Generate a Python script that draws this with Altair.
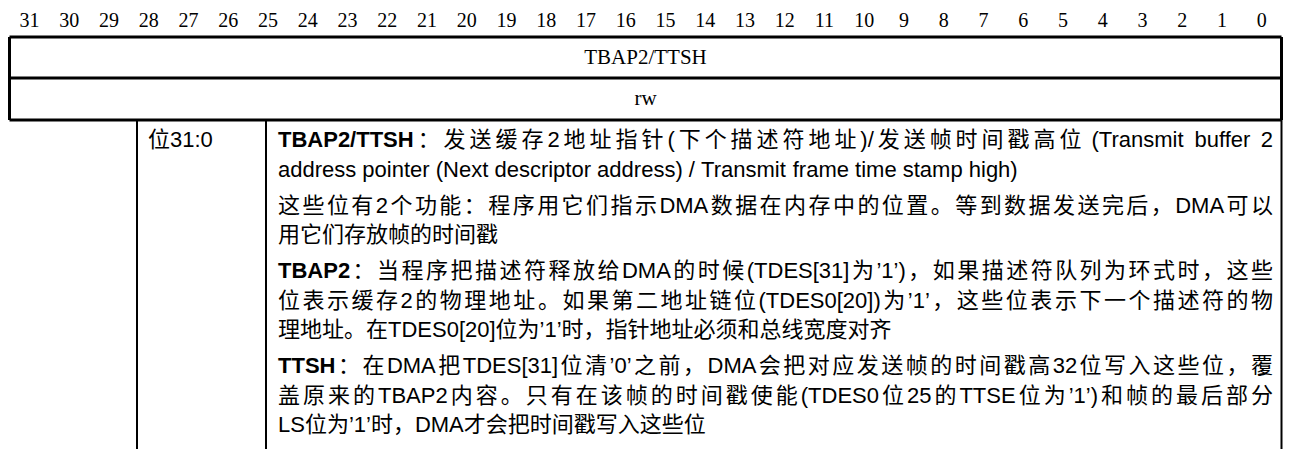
import altair as alt
import pandas as pd

# ---------------- data ----------------
bits = list(range(31, -1, -1))
field_names = ["TBAP2/TTSH"]
access_types = ["rw"]
bit_range_labels = ["位31:0"]

desc_bold = ["TBAP2/TTSH", "", "", "", "TBAP2", "", "", "TTSH", "", ""]
desc_text = [
    "：发送缓存2地址指针(下个描述符地址)/发送帧时间戳高位 (Transmit buffer 2",
    "address pointer (Next descriptor address) / Transmit frame time stamp high)",
    "这些位有2个功能：程序用它们指示DMA数据在内存中的位置。等到数据发送完后，DMA可以",
    "用它们存放帧的时间戳",
    "：当程序把描述符释放给DMA的时候(TDES[31]为’1’)，如果描述符队列为环式时，这些",
    "位表示缓存2的物理地址。如果第二地址链位(TDES0[20])为’1’，这些位表示下一个描述符的物",
    "理地址。在TDES0[20]位为’1’时，指针地址必须和总线宽度对齐",
    "：在DMA把TDES[31]位清’0’之前，DMA会把对应发送帧的时间戳高32位写入这些位，覆",
    "盖原来的TBAP2内容。只有在该帧的时间戳使能(TDES0位25的TTSE位为’1’)和帧的最后部分",
    "LS位为’1’时，DMA才会把时间戳写入这些位",
]
desc_paragraph = [0, 0, 1, 1, 2, 2, 2, 3, 3, 3]
desc_justified = [True, False, True, False, True, True, False, True, True, False]

# ---------------- layout ----------------
W, H = 1275, 441
BOX_L, BOX_R = 9.5, 1281.5
ROW_Y = [37, 78, 120]
NUM_Y = 21
COL_X = [137, 266]
TEXT_X, TEXT_R = 278, 1273
LABEL_X = 148
LINE1_Y, LH, PGAP = 140, 29.5, 6.5
FS = 22
SANS = "Liberation Sans, Noto Sans CJK SC"
SERIF = "Liberation Serif, DejaVu Serif"

# Helvetica/Arial metrics (per 1000 em)
_reg = {' ': 278, '!': 278, '"': 355, '#': 556, '$': 556, '%': 889, '&': 667, "'": 191,
        '(': 333, ')': 333, '*': 389, '+': 584, ',': 278, '-': 333, '.': 278, '/': 278,
        ':': 278, ';': 278, '<': 584, '=': 584, '>': 584, '?': 556, '@': 1015,
        '[': 278, '\\': 278, ']': 278, '^': 469, '_': 556, '`': 333, '{': 334, '|': 260,
        '}': 334, '~': 584, '\u2019': 222, '\u2018': 222}
for d in "0123456789":
    _reg[d] = 556
_reg.update(dict(zip("ABCDEFGHIJKLMNOPQRSTUVWXYZ",
                     [667, 667, 722, 722, 667, 611, 778, 722, 278, 500, 667, 556, 833,
                      722, 778, 667, 778, 722, 667, 611, 722, 667, 944, 667, 667, 611])))
_reg.update(dict(zip("abcdefghijklmnopqrstuvwxyz",
                     [556, 556, 500, 556, 556, 278, 556, 556, 222, 222, 500, 222, 833,
                      556, 556, 556, 556, 333, 500, 278, 556, 500, 722, 500, 500, 500])))
_bold = dict(_reg)
_bold.update(dict(zip("ABCDEFGHIJKLMNOPQRSTUVWXYZ",
                      [722, 722, 722, 722, 667, 611, 778, 722, 278, 556, 722, 611, 833,
                       722, 778, 667, 778, 722, 667, 611, 722, 667, 944, 667, 667, 611])))


def is_wide(ch):
    return ord(ch) >= 0x2E80


def text_width(s, bold=False):
    tab = _bold if bold else _reg
    w = 0.0
    for ch in s:
        w += 1000 if is_wide(ch) else tab.get(ch, 556)
    return w / 1000 * FS


def tokenize(s):
    toks = []  # (text, trailing_space)
    cur = ""
    for ch in s:
        if ch == " ":
            if cur:
                toks.append([cur, True])
                cur = ""
            elif toks:
                toks[-1][1] = True
        elif is_wide(ch):
            if cur:
                toks.append([cur, False])
                cur = ""
            toks.append([ch, False])
        else:
            cur += ch
    if cur:
        toks.append([cur, False])
    return toks


rows = []
for i, (b, t, para, just) in enumerate(zip(desc_bold, desc_text, desc_paragraph, desc_justified)):
    y = LINE1_Y + i * LH + para * PGAP
    items = []
    if b:
        items.append((b, False, True))
    for tk, sp in tokenize(t):
        items.append((tk, sp, False))
    natural = sum(text_width(tk, bo) + (text_width(" ") if sp else 0) for tk, sp, bo in items)
    extra = 0.0
    if just and len(items) > 1:
        extra = (TEXT_R - TEXT_X - natural) / (len(items) - 1)
    x = TEXT_X
    for tk, sp, bo in items:
        rows.append({"x": x, "y": y, "t": tk, "bold": bo})
        x += text_width(tk, bo) + (text_width(" ") if sp else 0) + extra
desc_df = pd.DataFrame(rows)

cell = (BOX_R - BOX_L) / 32
num_df = pd.DataFrame({"x": [BOX_L + (31 - b + 0.5) * cell for b in bits],
                       "y": [NUM_Y] * 32, "t": [str(b) for b in bits]})
box_text_df = pd.DataFrame({"x": [(BOX_L + BOX_R) / 2] * 2,
                            "y": [(ROW_Y[0] + ROW_Y[1]) / 2, (ROW_Y[1] + ROW_Y[2]) / 2],
                            "t": field_names + access_types})
label_df = pd.DataFrame({"x": [LABEL_X], "y": [LINE1_Y], "t": bit_range_labels})

hlines = pd.DataFrame({"x": [BOX_L] * 3, "x2": [BOX_R] * 3, "y": ROW_Y})
vbox = pd.DataFrame({"x": [BOX_L, BOX_R], "y": [ROW_Y[0]] * 2, "y2": [ROW_Y[2]] * 2})
vtab = pd.DataFrame({"x": COL_X + [BOX_R], "y": [ROW_Y[2]] * 3, "y2": [449] * 3})

xs = alt.Scale(domain=[8, 8 + W], nice=False, zero=False)
ys = alt.Scale(domain=[8, 8 + H], nice=False, zero=False, reverse=True)
X = lambda f="x": alt.X(f"{f}:Q", scale=xs, axis=None)
Y = lambda f="y": alt.Y(f"{f}:Q", scale=ys, axis=None)

h_rule = alt.Chart(hlines).mark_rule(color="black", strokeWidth=3).encode(
    x=X(), x2="x2:Q", y=Y())
vb_rule = alt.Chart(vbox).mark_rule(color="black", strokeWidth=3).encode(
    x=X(), y=Y(), y2="y2:Q")
vt_rule = alt.Chart(vtab).mark_rule(color="black", strokeWidth=2).encode(
    x=X(), y=Y(), y2="y2:Q")

nums = alt.Chart(num_df).mark_text(font=SERIF, fontSize=20, align="center",
                                   baseline="middle", color="black").encode(
    x=X(), y=Y(), text="t:N")
box_txt = alt.Chart(box_text_df).mark_text(font=SERIF, fontSize=21, align="center",
                                           baseline="middle", color="black").encode(
    x=X(), y=Y(), text="t:N")
label = alt.Chart(label_df).mark_text(font=SANS, fontSize=FS, align="left",
                                      baseline="middle", color="black").encode(
    x=X(), y=Y(), text="t:N")
desc_n = alt.Chart(desc_df[~desc_df["bold"]]).mark_text(
    font=SANS, fontSize=FS, align="left", baseline="middle", color="black").encode(
    x=X(), y=Y(), text="t:N")
desc_b = alt.Chart(desc_df[desc_df["bold"]]).mark_text(
    font=SANS, fontSize=FS, fontWeight="bold", align="left", baseline="middle",
    color="black").encode(x=X(), y=Y(), text="t:N")

chart = alt.layer(h_rule, vb_rule, vt_rule, nums, box_txt, label, desc_n, desc_b).properties(
    width=W, height=H, padding=0, autosize=alt.AutoSizeParams(type="none"),
    background="white",
).configure_view(stroke=None)

chart.save("out.html", embed_options={"renderer": "svg", "actions": False})
